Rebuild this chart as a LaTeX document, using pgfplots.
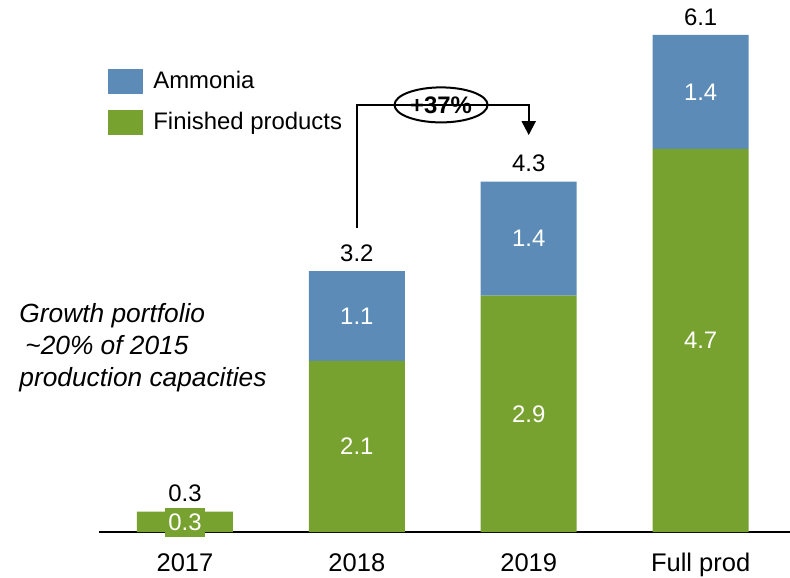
\documentclass[border=0pt]{standalone}
\usepackage{fontspec}
\setmainfont{Liberation Sans}
\usepackage{pgfplots}
\pgfplotsset{compat=1.18}
\usetikzlibrary{arrows.meta,shapes.geometric}
\definecolor{ammonia}{RGB}{91,139,182}
\definecolor{finished}{RGB}{120,162,48}

\pgfplotsset{
  base/.style={
    at={(0,0)}, anchor=south west,
    scale only axis, width=345.5bp, height=264.9bp,
    xmin=-0.5, xmax=3.52, ymin=0, ymax=6.5,
    clip=false,
  },
  sq/.style={legend image code/.code={\fill[##1] (0bp,-6.25bp) rectangle (17.5bp,6.25bp);}},
}

\begin{document}
\begin{tikzpicture}[font=\fontsize{12}{14}\selectfont]
\useasboundingbox (-49.5bp,-23bp) rectangle (345.5bp,266bp);
\begin{axis}[
  base,
  ybar stacked, bar width=48bp,
  axis x line=bottom, axis y line=none,
  axis line style={-, line width=1bp},
  xtick={0,1,2,3}, xticklabels={2017,2018,2019,Full prod},
  major tick length=0pt,
  xticklabel style={inner sep=0pt, yshift=-10.5bp, font=\fontsize{12.8}{14}\selectfont},
  ytick=\empty,
  legend style={draw=none, fill=none, at={(0.013,0.875)}, anchor=north west,
    inner sep=0pt, row sep=8bp, column sep=5bp,
    nodes={inner sep=0pt}},
  legend cell align=left,
  reverse legend,
]
\addplot[fill=finished, draw=none, sq] coordinates {(0,0.25) (1,2.1) (2,2.9) (3,4.7)};
\addlegendentry{Finished products}
\addplot[fill=ammonia, draw=none, sq] coordinates {(0,0) (1,1.1) (2,1.4) (3,1.4)};
\addlegendentry{Ammonia}

% growth bracket 2018 -> 2019
\draw[line width=1bp, -{Triangle[width=7bp,length=7bp]}]
  (axis cs:1,3.73) |- (axis cs:2,5.24) -- (axis cs:2,4.87);
\node[ellipse, draw, fill=white, line width=1bp, inner sep=1bp,
  minimum width=46.5bp, minimum height=17.5bp, font=\bfseries\fontsize{12}{14}\selectfont]
  at (axis cs:1.49,5.24) {+37\%};

\node[anchor=north west, inner sep=0pt, align=left,
  font=\itshape\fontsize{13.2}{16.2}\selectfont]
  at (axis cs:-0.965,2.81) {Growth portfolio\\\hspace{3bp}\textasciitilde20\% of 2015\\production capacities};
\end{axis}

% value labels
\begin{axis}[base, hide axis]
\addplot[draw=none, mark=none, nodes near coords, point meta=explicit symbolic,
  every node near coord/.append style={anchor=center, text=white, fill=finished, inner xsep=1.7bp, inner ysep=3bp}]
  table[meta=label] {
x y label
0 0.12 0.3
1 1.05 2.1
2 1.45 2.9
3 2.35 4.7
};
\addplot[draw=none, mark=none, nodes near coords, point meta=explicit symbolic,
  every node near coord/.append style={anchor=center, text=white}]
  table[meta=label] {
x y label
1 2.65 1.1
2 3.60 1.4
3 5.40 1.4
};
\addplot[draw=none, mark=none, nodes near coords, point meta=explicit symbolic,
  every node near coord/.append style={anchor=south, text=black, inner sep=0pt, yshift=4.5bp}]
  table[meta=label] {
x y label
0 0.25 0.3
1 3.2 3.2
2 4.3 4.3
3 6.1 6.1
};
\end{axis}
\end{tikzpicture}
\end{document}
